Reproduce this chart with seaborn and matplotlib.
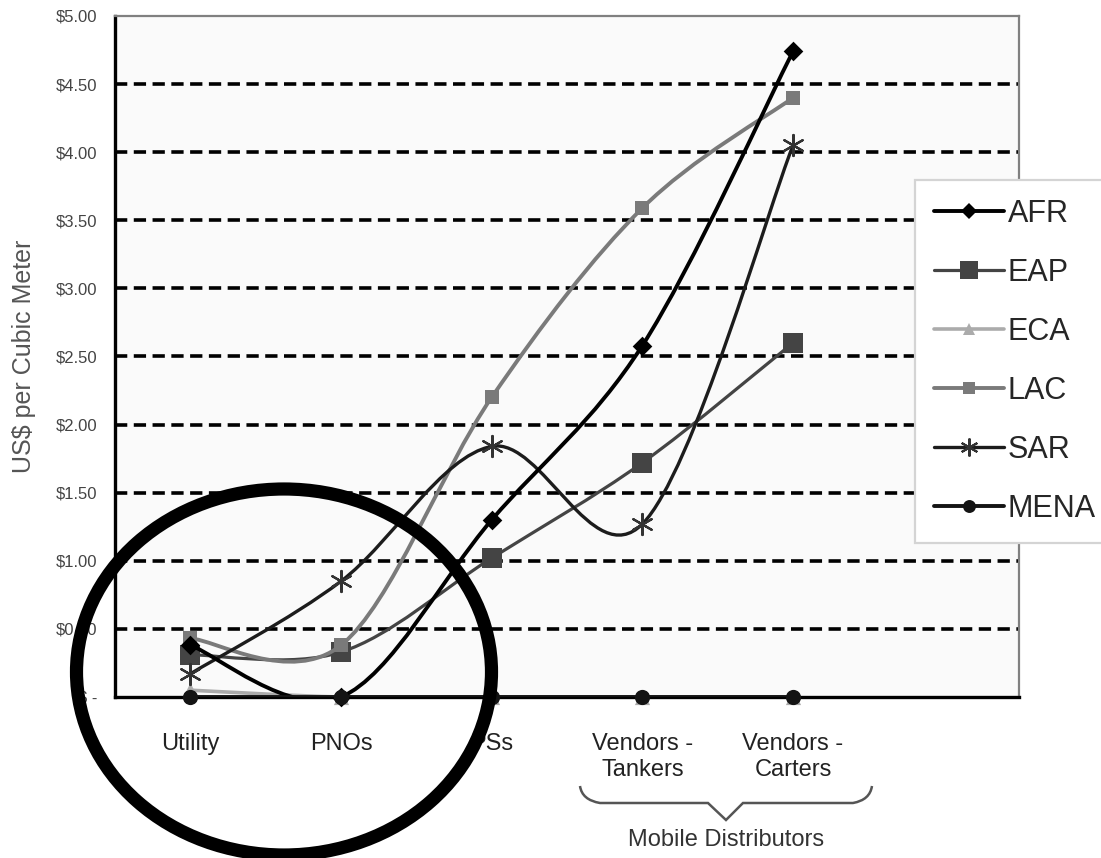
import numpy as np
import pandas as pd
import matplotlib
matplotlib.use("Agg")
import matplotlib.pyplot as plt
import matplotlib.transforms as mtransforms
import seaborn as sns
from matplotlib.path import Path
from matplotlib.patches import PathPatch, Ellipse
from matplotlib.lines import Line2D

# ---- data (US$ per cubic meter) ----
categories = ["Utility", "PNOs", "PSs", "Vendors -\nTankers", "Vendors -\nCarters"]
regions = ["AFR", "EAP", "ECA", "LAC", "SAR", "MENA"]
afr = [0.38, 0.00, 1.30, 2.58, 4.74]
eap = [0.31, 0.33, 1.02, 1.72, 2.60]
eca = [0.05, 0.00, 0.00, 0.00, 0.00]
lac = [0.43, 0.38, 2.20, 3.59, 4.40]
sar = [0.17, 0.85, 1.84, 1.27, 4.05]
mena = [0.00, 0.00, 0.00, 0.00, 0.00]
y_ticks = [0, 0.5, 1.0, 1.5, 2.0, 2.5, 3.0, 3.5, 4.0, 4.5, 5.0]
y_tick_labels = [r"\$ -", r"\$0.50", r"\$1.00", r"\$1.50", r"\$2.00", r"\$2.50",
                 r"\$3.00", r"\$3.50", r"\$4.00", r"\$4.50", r"\$5.00"]

df = pd.DataFrame({"pos": np.tile(np.arange(len(categories)), len(regions)),
                   "region": np.repeat(regions, len(categories)),
                   "price": afr + eap + eca + lac + sar + mena})

# style per series
colors = {"AFR": "#000000", "EAP": "#444444", "ECA": "#ababab",
          "LAC": "#7a7a7a", "SAR": "#1c1c1c", "MENA": "#141414"}
markers = {"AFR": "D", "EAP": "s", "ECA": "^", "LAC": "s", "SAR": (6, 2, 0), "MENA": "o"}
msize = {"AFR": 100, "EAP": 200, "ECA": 120, "LAC": 115, "SAR": 230, "MENA": 120}
lwidth = {"AFR": 2.8, "EAP": 2.3, "ECA": 2.6, "LAC": 2.8, "SAR": 2.4, "MENA": 2.8}
draw_order = ["ECA", "EAP", "LAC", "SAR", "AFR", "MENA"]

sns.set_style("white")
plt.rcParams["font.family"] = ["Liberation Sans", "DejaVu Sans"]

W, H = 1101, 858
fig = plt.figure(figsize=(W / 100, H / 100), dpi=100)
ax = fig.add_axes([115 / W, 1 - 697 / H, (1019 - 115) / W, (697 - 16) / H])
ax.set_facecolor("#fafafa")


def smooth_path(xs, ys):
    # excel-style smoothed line as cubic bezier segments
    pts = np.column_stack([xs, ys]).astype(float)
    n = len(pts)
    verts = [pts[0]]
    codes = [Path.MOVETO]
    for i in range(n - 1):
        p0 = pts[max(i - 1, 0)]
        p1 = pts[i]
        p2 = pts[i + 1]
        p3 = pts[min(i + 2, n - 1)]
        verts += [p1 + (p2 - p0) / 6, p2 - (p3 - p1) / 6, p2]
        codes += [Path.CURVE4] * 3
    return Path(verts, codes)


for z, reg in enumerate(draw_order):
    sub = df[df["region"] == reg]
    ax.add_patch(PathPatch(smooth_path(sub["pos"], sub["price"]), fill=False,
                           edgecolor=colors[reg], lw=lwidth[reg], zorder=3 + z,
                           capstyle="round", joinstyle="round"))
    if reg == "SAR":
        sns.scatterplot(data=sub, x="pos", y="price", marker=markers[reg], s=msize[reg],
                        color="#333333", linewidth=1.6, ax=ax, zorder=3.5 + z,
                        clip_on=False, legend=False)
    else:
        sns.scatterplot(data=sub, x="pos", y="price", marker=markers[reg], s=msize[reg],
                        color=colors[reg], edgecolor=colors[reg], linewidth=0,
                        ax=ax, zorder=3.5 + z, clip_on=False, legend=False)

# dashed gridlines
for yv in y_ticks[1:-1]:
    ax.axhline(yv, color="black", lw=2.6, dashes=(3.4, 1.8), zorder=1)

ax.set_xlim(-0.5, 5.5)
ax.set_ylim(0, 5)
ax.set_xlabel("")
ax.set_ylabel("US$ per Cubic Meter", fontsize=18, color="#555555", labelpad=14)

ax.set_yticks(y_ticks)
ax.set_yticklabels(y_tick_labels, fontsize=12, color="#444444")
ax.tick_params(axis="y", direction="out", length=8, width=2.2, color="black", pad=5)

ax.set_xticks(np.arange(-0.5, 6.0, 1.0))
ax.set_xticklabels([])
ax.tick_params(axis="x", which="major", direction="out", length=9, width=2.2, color="black")
ax.set_xticks(np.arange(len(categories)), minor=True)
ax.set_xticklabels(categories, minor=True, fontsize=17, color="#222222", linespacing=1.25)
ax.tick_params(axis="x", which="minor", length=0, pad=26)

for side in ["left", "bottom"]:
    ax.spines[side].set_color("black")
    ax.spines[side].set_linewidth(2.4)
for side in ["top", "right"]:
    ax.spines[side].set_color("#808080")
    ax.spines[side].set_linewidth(1.6)

# brace under the mobile distributors
blend = mtransforms.blended_transform_factory(ax.transData, fig.transFigure)


def fy(py):
    return 1 - py / H


def dx(px):
    return (px - 115) / 150.67 - 0.5


brace = Path([(dx(580), fy(786)), (dx(582), fy(800)), (dx(600), fy(803)),
              (dx(708), fy(803)), (dx(726), fy(820)), (dx(743), fy(803)),
              (dx(853), fy(803)), (dx(870), fy(800)), (dx(872), fy(786))],
             [Path.MOVETO, Path.CURVE3, Path.CURVE3, Path.LINETO, Path.LINETO,
              Path.LINETO, Path.LINETO, Path.CURVE3, Path.CURVE3])
fig.add_artist(PathPatch(brace, fill=False, edgecolor="#555555", lw=1.8, transform=blend))
fig.text(dx(726), fy(840), "Mobile Distributors", transform=blend, ha="center", va="center",
         fontsize=17, color="#333333")

# legend
handles = [Line2D([0], [0], color=colors[r], lw=lwidth[r], marker=markers[r],
                  markersize=np.sqrt(msize[r]) * (0.95 if r == "EAP" else 0.85),
                  markerfacecolor=colors[r] if r != "SAR" else "#333333",
                  markeredgecolor=colors[r] if r != "SAR" else "#333333",
                  markeredgewidth=1.5 if r == "SAR" else 0) for r in regions]
leg = fig.legend(handles, regions, loc="upper left", bbox_to_anchor=(915 / W, fy(180)),
                 fontsize=22, frameon=True, fancybox=False, edgecolor="#d4d4d4",
                 framealpha=1, borderpad=0.62, handlelength=2.3, handletextpad=0.12,
                 labelspacing=0.95, borderaxespad=0)
leg.get_frame().set_linewidth(1.6)

# big hand-drawn circle around the first two categories
fig.add_artist(Ellipse((284 / W, fy(672)), 415 / W, 366 / H, fill=False,
                       edgecolor="black", lw=9.5, zorder=20))

fig.savefig("out.png", dpi=100)
